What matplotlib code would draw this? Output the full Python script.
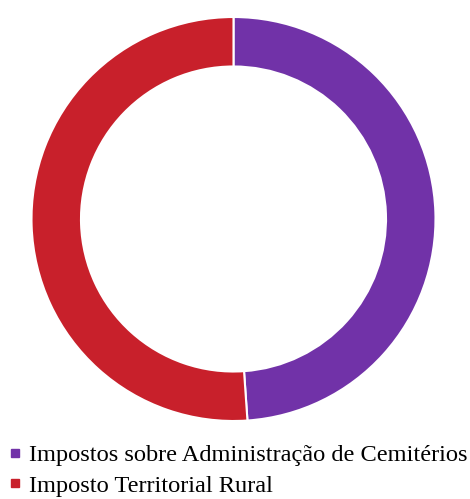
import matplotlib
matplotlib.use("Agg")
import matplotlib.pyplot as plt
from matplotlib.lines import Line2D

labels = ["Impostos sobre Administração de Cemitérios", "Imposto Territorial Rural"]
values = [48.9, 51.1]
colors = ["#7132A8", "#C8202B"]

W, H = 470, 499
fig = plt.figure(figsize=(W / 100, H / 100), dpi=100)
cx, cy, r = 233.5, 499 - 219, 202
ax = fig.add_axes([(cx - r) / W, (cy - r) / H, 2 * r / W, 2 * r / H])
ax.pie(values, colors=colors, startangle=90, counterclock=False, radius=1.0,
       wedgeprops=dict(width=0.245, edgecolor="white", linewidth=1.5))
ax.set_xlim(-1, 1)
ax.set_ylim(-1, 1)
ax.set_aspect("auto")
ax.axis("off")

handles = [Line2D([], [], linestyle="none", marker="s", markersize=6,
                  markerfacecolor=c, markeredgecolor=c) for c in colors]
fig.legend(handles, labels, loc="upper left", bbox_to_anchor=(8 / W, 1 - 444 / H),
           frameon=False, prop=dict(family="Liberation Serif", size=17.6),
           handlelength=0.55, handletextpad=0.3, labelspacing=0.35, borderpad=0,
           borderaxespad=0)

fig.savefig("out.png", dpi=100)
